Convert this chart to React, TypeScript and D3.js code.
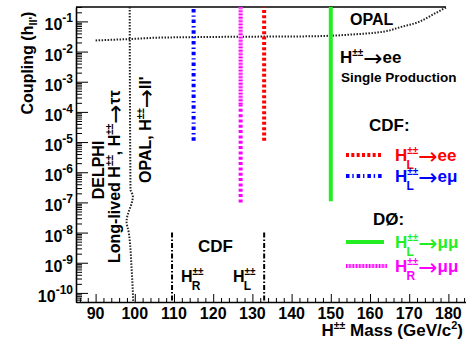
import React, { useEffect, useRef } from 'react';
import * as d3 from 'd3';

const FONT = "'Liberation Sans', Arial, Helvetica, sans-serif";
const ARROW_FONT = "'DejaVu Sans', sans-serif";

// axes
const massDomain = [85, 185];
const couplingDomain = [5e-11, 0.3];
const massTicks = [90, 100, 110, 120, 130, 140, 150, 160, 170, 180];
const couplingExps = [-10, -9, -8, -7, -6, -5, -4, -3, -2, -1];

// OPAL single production, H++ -> ee (dotted curve)
const opalMass = [90, 98.8, 106.4, 126.8, 144.7, 155.7, 164.3, 168, 172.8, 176.1, 179.6];
const opalCoupling = [0.0234, 0.026, 0.029, 0.031, 0.032, 0.037, 0.048, 0.066, 0.1, 0.17, 0.3];

// DELPHI long-lived / OPAL pair production bound near 100 GeV
const delphiMass = [98.7, 98.9, 99.5, 97.9, 98.4, 99.2, 99.6];
const delphiCoupling = [0.3, 2.7e-7, 1.6e-7, 2.3e-8, 1.1e-8, 6e-10, 5.2e-11];

// vertical mass limits: CDF ee, CDF e-mu, D0 H_R mumu, D0 H_L mumu
const limitMass = [133, 115, 127, 150];
const limitLow = [1.1e-5, 1.1e-5, 1e-7, 1.1e-7];
const limitHigh = [0.3, 0.3, 0.3, 0.3];
const limitColor = ['#ff0000', '#0000ff', '#ff00ff', '#22ee22'];
const limitDash = ['3,2.33', '3.5,2.8,1.4,3', '3,2.33', null];
const magentaPaleFrom = 1.8e-4;

// CDF long-lived searches (H_R, H_L)
const cdfLongMass = [109.5, 133];
const cdfLongHigh = 1e-8;

type Run = { t: string; fs?: number; dx?: number; dy?: number; ff?: string; fw?: string };

const rich = (parent: any, runs: Run[], fs: number, fill = '#000') => {
  const text = parent.append('text')
    .attr('font-family', FONT)
    .attr('font-weight', 'bold')
    .attr('font-size', fs)
    .attr('fill', fill);
  runs.forEach(r => {
    const s = text.append('tspan').text(r.t);
    if (r.fs) s.attr('font-size', r.fs);
    if (r.dx) s.attr('dx', r.dx);
    if (r.dy) s.attr('dy', r.dy);
    if (r.ff) s.attr('font-family', r.ff);
    if (r.fw) s.attr('font-weight', r.fw);
  });
  return text;
};

const sup: Run = { t: '±±', fs: 10, dy: -7 };
const hSub = (sub: string): Run[] => [{ t: 'H' }, sup, { t: sub, fs: 12, dx: -11.7, dy: 15 }];
// ROOT-like long thin arrow, sits a bit low
const arrow = (dy: number, dx = 0): Run => ({ t: '→', ff: ARROW_FONT, fw: 'normal', fs: 23, dy: dy + 3, dx });

const App = () => {
  const ref = useRef<SVGSVGElement>(null);

  useEffect(() => {
    const svg = d3.select(ref.current);
    svg.selectAll('*').remove();

    const left = 76, right = 468, top = 7, bottom = 302;
    const x = d3.scaleLinear().domain(massDomain).range([left, right]);
    const y = d3.scaleLog().domain(couplingDomain).range([bottom, top]);

    const majorY = couplingExps.map(e => Math.pow(10, e));
    const minorY = y.ticks().filter(v => !majorY.some(t => Math.abs(t - v) / t < 1e-6));
    const minorX = x.ticks(50).filter(v => !massTicks.includes(v));

    // y axis, ticks inside
    svg.append('g')
      .attr('transform', `translate(${left},0)`)
      .call(d3.axisLeft(y).tickValues(minorY).tickSize(-6).tickSizeOuter(0).tickFormat(() => ''))
      .call(g => g.select('.domain').attr('stroke-width', 1.6));
    svg.append('g')
      .attr('transform', `translate(${left},0)`)
      .call(d3.axisLeft(y).tickValues(majorY).tickSize(-12).tickFormat(() => ''))
      .call(g => g.select('.domain').remove());

    // x axis, ticks inside
    svg.append('g')
      .attr('transform', `translate(0,${bottom})`)
      .call(d3.axisBottom(x).tickValues(minorX).tickSize(-4).tickSizeOuter(0).tickFormat(() => ''))
      .call(g => g.select('.domain').attr('stroke-width', 1.6));
    svg.append('g')
      .attr('transform', `translate(0,${bottom})`)
      .call(d3.axisBottom(x).tickValues(massTicks).tickSize(-8).tickFormat(() => ''))
      .call(g => g.select('.domain').remove());

    svg.selectAll('.tick line').attr('stroke-width', 1);

    // top frame line
    svg.append('line')
      .attr('x1', left).attr('x2', 446)
      .attr('y1', top).attr('y2', top)
      .attr('stroke', '#000').attr('stroke-width', 1.6);

    // tick labels
    couplingExps.forEach(e => {
      rich(svg, [{ t: '10' }, { t: `-${-e}`, fs: 12, dy: -8 }], 16)
        .attr('x', 73).attr('y', y(Math.pow(10, e)) + 9)
        .attr('text-anchor', 'end');
    });
    massTicks.forEach(m => {
      rich(svg, [{ t: String(m) }], 16)
        .attr('x', x(m)).attr('y', 318.5)
        .attr('text-anchor', 'middle');
    });

    // axis titles
    rich(svg, [{ t: 'H' }, { t: '±±', fs: 10.5, dy: -7 }, { t: ' Mass (GeV/c', dy: 7 }, { t: '2', fs: 11, dy: -7 }, { t: ')', dy: 7 }], 17)
      .attr('x', 463).attr('y', 335.5).attr('text-anchor', 'end');
    rich(svg.append('g').attr('transform', 'translate(33,63) rotate(-90)'),
      [{ t: 'Coupling (h' }, { t: "ll'", fs: 11, dy: 4 }, { t: ')', dy: -4 }], 16)
      .attr('text-anchor', 'middle');

    // curves
    const opal = d3.line<number>()
      .x((_, i) => x(opalMass[i]))
      .y(d => y(d))
      .curve(d3.curveMonotoneX);
    svg.append('path')
      .attr('d', opal(opalCoupling))
      .attr('fill', 'none').attr('stroke', '#222')
      .attr('stroke-width', 2).attr('stroke-dasharray', '1.5,1.5');

    const delphi = d3.line<number>()
      .x((_, i) => x(delphiMass[i]))
      .y(d => y(d))
      .curve(d3.curveMonotoneY);
    svg.append('path')
      .attr('d', delphi(delphiCoupling))
      .attr('fill', 'none').attr('stroke', '#222')
      .attr('stroke-width', 2).attr('stroke-dasharray', '1.5,1.5');

    // CDF long-lived lines
    svg.selectAll('.cdf-long')
      .data(cdfLongMass)
      .enter().append('line')
      .attr('x1', d => x(d)).attr('x2', d => x(d))
      .attr('y1', y(cdfLongHigh)).attr('y2', bottom)
      .attr('stroke', '#000').attr('stroke-width', 2)
      .attr('stroke-dasharray', '5,2,1.5,2');

    // vertical limits
    limitMass.forEach((m, i) => {
      const isMagenta = i === 2;
      const low = limitLow[i];
      const high = isMagenta ? magentaPaleFrom : limitHigh[i];
      const l = svg.append('line')
        .attr('x1', x(m)).attr('x2', x(m))
        .attr('y1', y(low)).attr('y2', y(high))
        .attr('stroke', limitColor[i]).attr('stroke-width', 4);
      if (limitDash[i]) l.attr('stroke-dasharray', limitDash[i]);
      if (isMagenta) {
        svg.append('line')
          .attr('x1', x(m)).attr('x2', x(m))
          .attr('y1', y(magentaPaleFrom)).attr('y2', y(limitHigh[i]))
          .attr('stroke', '#ffa0ff').attr('stroke-width', 4);
        svg.append('line')
          .attr('x1', x(m)).attr('x2', x(m))
          .attr('y1', y(magentaPaleFrom)).attr('y2', y(limitHigh[i]))
          .attr('stroke', '#ff00ff').attr('stroke-width', 4)
          .attr('stroke-dasharray', '1.3,2');
      }
    });

    // rotated annotations
    rich(svg.append('g').attr('transform', 'translate(104,170) rotate(-90)'), [{ t: 'DELPHI' }], 16)
      .attr('text-anchor', 'middle');
    rich(svg.append('g').attr('transform', 'translate(120,263) rotate(-90)'),
      [{ t: 'Long-lived H' }, sup, { t: ', H', dy: 7 }, sup, arrow(7), { t: 'ττ', dy: -3 }], 16);
    rich(svg.append('g').attr('transform', 'translate(151,183) rotate(-90)'),
      [{ t: 'OPAL, H' }, sup, arrow(7), { t: "ll'", dy: -3 }], 16);

    // CDF long-lived labels
    rich(svg, [{ t: 'CDF' }], 17).attr('x', 198).attr('y', 252);
    rich(svg, hSub('R'), 16).attr('x', 181).attr('y', 282);
    rich(svg, hSub('L'), 16).attr('x', 233).attr('y', 282);

    // OPAL single production labels
    rich(svg, [{ t: 'OPAL' }], 16).attr('x', 350).attr('y', 25);
    rich(svg, [{ t: 'H' }, sup, arrow(7), { t: 'ee', dy: -3 }], 17).attr('x', 340).attr('y', 63);
    rich(svg, [{ t: 'Single Production' }], 13.5).attr('x', 341).attr('y', 82);

    // legend
    rich(svg, [{ t: 'CDF:' }], 17).attr('x', 369).attr('y', 131);
    rich(svg, [{ t: 'DØ:' }], 17).attr('x', 373).attr('y', 225);

    const legendLine = (yy: number, x2: number, color: string, dash: string | null) => {
      const l = svg.append('line')
        .attr('x1', 346).attr('x2', x2).attr('y1', yy).attr('y2', yy)
        .attr('stroke', color).attr('stroke-width', 4);
      if (dash) l.attr('stroke-dasharray', dash);
    };
    legendLine(155, 382, limitColor[0], limitDash[0]);
    legendLine(176, 382, limitColor[1], limitDash[1]);
    legendLine(242, 384, limitColor[3], null);
    legendLine(266, 387, '#ffa0ff', null);
    legendLine(266, 387, '#ff00ff', '1.3,2');

    rich(svg, [...hSub('L'), arrow(-8, 11.7 - 7.3), { t: 'ee', dy: -3 }], 17, limitColor[0]).attr('x', 395).attr('y', 161);
    rich(svg, [...hSub('L'), arrow(-8, 11.7 - 7.3), { t: 'eμ', dy: -3 }], 17, limitColor[1]).attr('x', 395).attr('y', 182);
    rich(svg, [...hSub('L'), arrow(-8, 11.7 - 7.3), { t: 'μμ', dy: -3 }], 17, limitColor[3]).attr('x', 395).attr('y', 248);
    rich(svg, [...hSub('R'), arrow(-8, 11.7 - 8.7), { t: 'μμ', dy: -3 }], 17, limitColor[2]).attr('x', 395).attr('y', 272);
  }, []);

  return (
    <svg
      ref={ref}
      width={466}
      height={343}
      style={{ position: 'absolute', left: 0, top: 0, background: '#fff' }}
    />
  );
};

export default App;
